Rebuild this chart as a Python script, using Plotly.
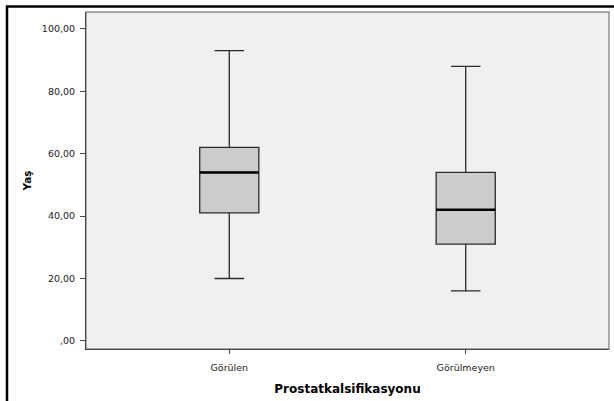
import plotly.graph_objects as go

categories = ["Görülen", "Görülmeyen"]
lower = [20, 16]
q1 = [41, 31]
median = [54, 42]
q3 = [62, 54]
upper = [93, 88]
y_ticks = [0, 20, 40, 60, 80, 100]
y_tick_labels = [",00", "20,00", "40,00", "60,00", "80,00", "100,00"]

pos = list(range(len(categories)))
bw = 0.25

fig = go.Figure()
fig.add_trace(go.Box(
    x=pos, q1=q1, median=median, q3=q3, lowerfence=lower, upperfence=upper,
    width=bw, whiskerwidth=0.5, fillcolor="#cccccc",
    line=dict(color="#2a2a2a", width=1.3), boxpoints=False, hoverinfo="skip",
    showlegend=False,
))
for i, m in zip(pos, median):
    fig.add_trace(go.Scatter(
        x=[i - bw / 2, i + bw / 2], y=[m, m], mode="lines",
        line=dict(color="black", width=2.5), showlegend=False, hoverinfo="skip",
    ))

W, H = 614, 401
L, R, T, B = 86, 5, 12, 52
pw, ph = W - L - R, H - T - B
FONT = "DejaVu Sans, Verdana, sans-serif"

fig.update_layout(
    width=W, height=H,
    margin=dict(l=L, r=R, t=T, b=B, autoexpand=False),
    paper_bgcolor="white", plot_bgcolor="#f0f0f0",
    font=dict(family=FONT, color="#222222", size=9.5),
    xaxis=dict(
        range=[-0.606, 1.606], tickvals=pos, ticktext=categories,
        showgrid=False, zeroline=False, showline=True, linecolor="#444444", linewidth=1,
        ticks="outside", ticklen=4, tickcolor="#444444", ticklabelstandoff=6,
        tickfont=dict(size=9.5),
        title=dict(text="<b>Prostatkalsifikasyonu</b>", font=dict(size=12, color="black"), standoff=12),
    ),
    yaxis=dict(
        range=[-2.6, 105.4], tickvals=y_ticks, ticktext=y_tick_labels,
        showgrid=False, zeroline=False, showline=True, linecolor="#444444", linewidth=1,
        ticks="outside", ticklen=5, tickcolor="#444444", ticklabelstandoff=3,
        tickfont=dict(size=9.5),
        title=dict(text="<b>Yaş</b>", font=dict(size=10.5, color="black"), standoff=8),
    ),
    shapes=[
        dict(type="rect", xref="paper", yref="paper", x0=0, x1=1, y0=0, y1=1,
             line=dict(color="#909090", width=1.5), layer="below"),
        dict(type="rect", xref="paper", yref="paper",
             x0=(7 - L) / pw, x1=(W + 5 - L) / pw,
             y0=-(H + 5 - T - ph) / ph, y1=1 + (T - 6.5) / ph,
             line=dict(color="black", width=2.5)),
    ],
)

fig.write_html("out.html", config={"displayModeBar": False},
               post_script="document.body.style.margin='0';document.body.style.overflow='hidden';")
